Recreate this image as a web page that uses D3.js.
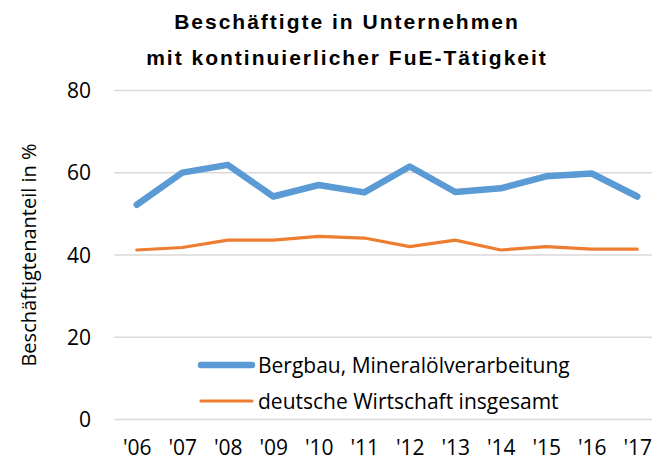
<!DOCTYPE html>
<html lang="de">
<head>
<meta charset="UTF-8" />
<title>Beschäftigte in Unternehmen mit kontinuierlicher FuE-Tätigkeit</title>
<style>
  body { margin: 0; background: #fff; }
  svg { display: block; }
  .tick text, .label { font-family: "Open Sans", sans-serif; fill: #000; }
  .title { font-family: "Liberation Sans", Arial, sans-serif; font-weight: bold; fill: #000; letter-spacing: 2px; }
</style>
</head>
<body>
<svg width="652" height="457"></svg>
<script src="https://cdn.jsdelivr.net/npm/d3@7"></script>
<script>
var years = ["'06", "'07", "'08", "'09", "'10", "'11", "'12", "'13", "'14", "'15", "'16", "'17"];
var bergbau = [52.1, 59.9, 61.8, 54.1, 56.9, 55.1, 61.4, 55.2, 56.1, 59.0, 59.7, 54.1];
var gesamt = [41.1, 41.7, 43.5, 43.5, 44.4, 44.0, 41.9, 43.5, 41.1, 41.9, 41.3, 41.3];
var yTicks = [0, 20, 40, 60, 80];
var seriesNames = ["Bergbau, Mineralölverarbeitung", "deutsche Wirtschaft insgesamt"];

var svg = d3.select("svg"),
    margin = {top: 90, right: -8, bottom: 38, left: 114},
    width = +svg.attr("width") - margin.left - margin.right,
    height = +svg.attr("height") - margin.top - margin.bottom;

var g = svg.append("g")
    .attr("transform", "translate(" + margin.left + "," + margin.top + ")");

var x = d3.scalePoint().domain(years).range([0, width]).padding(0.5);
var y = d3.scaleLinear().domain([0, 80]).range([height, 0]);

// gridlines + y labels
var yAxis = g.append("g")
    .call(d3.axisLeft(y).tickValues(yTicks).tickSize(-width).tickPadding(23));
yAxis.select(".domain").remove();
yAxis.selectAll(".tick line").attr("stroke", "#d9d9d9").attr("stroke-width", 1.3);
yAxis.selectAll(".tick text").style("font-size", "21px").attr("dy", "0.36em");

// x labels
var xAxis = g.append("g")
    .attr("transform", "translate(0," + height + ")")
    .call(d3.axisBottom(x).tickSize(0).tickPadding(21));
xAxis.select(".domain").remove();
xAxis.selectAll(".tick text").style("font-size", "21px");

var line = d3.line()
    .x(function(d, i) { return x(years[i]); })
    .y(function(d) { return y(d); });

g.append("path")
    .datum(gesamt)
    .attr("fill", "none")
    .attr("stroke", "#ed7d31")
    .attr("stroke-width", 3.2)
    .attr("stroke-linecap", "round")
    .attr("stroke-linejoin", "round")
    .attr("d", line);

g.append("path")
    .datum(bergbau)
    .attr("fill", "none")
    .attr("stroke", "#5b9bd5")
    .attr("stroke-width", 6.5)
    .attr("stroke-linecap", "round")
    .attr("stroke-linejoin", "round")
    .attr("d", line);

// legend
var legend = svg.append("g").attr("transform", "translate(201,365)");
var colors = ["#5b9bd5", "#ed7d31"], widths = [6.5, 3.2];
seriesNames.forEach(function(name, i) {
  var row = legend.append("g").attr("transform", "translate(0," + (i * 36) + ")");
  row.append("line")
    .attr("x1", 0).attr("x2", 51)
    .attr("stroke", colors[i]).attr("stroke-width", widths[i])
    .attr("stroke-linecap", "round");
  row.append("text")
    .attr("class", "label")
    .attr("x", 57).attr("dy", "0.36em")
    .style("font-size", "21px")
    .text(name);
});

// axis title
svg.append("text")
  .attr("class", "label")
  .attr("transform", "translate(36,255) rotate(-90)")
  .attr("text-anchor", "middle")
  .style("font-size", "20px")
  .text("Beschäftigtenanteil in %");

// chart title
svg.append("text").attr("class", "title")
  .attr("x", 347).attr("y", 29).attr("text-anchor", "middle")
  .style("font-size", "21px")
  .text("Beschäftigte in Unternehmen");
svg.append("text").attr("class", "title")
  .attr("x", 347).attr("y", 65).attr("text-anchor", "middle")
  .style("font-size", "21px")
  .text("mit kontinuierlicher FuE-Tätigkeit");
</script>
</body>
</html>
